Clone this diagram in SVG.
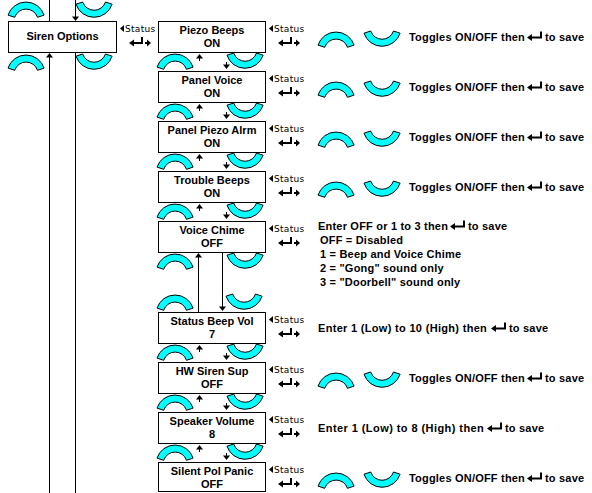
<svg xmlns="http://www.w3.org/2000/svg" xmlns:xlink="http://www.w3.org/1999/xlink" width="592" height="493" viewBox="0 0 592 493">
<style>
.box{fill:#fff;stroke:#000;stroke-width:1}
.lbl{font-family:"Liberation Sans",Arial,sans-serif;font-weight:bold;font-size:11px;fill:#000;text-anchor:middle}
.dsc{font-family:"Liberation Sans",Arial,sans-serif;font-weight:bold;font-size:11px;fill:#000;letter-spacing:0.2px}
.st{font-family:"DejaVu Sans",sans-serif;font-size:9px;fill:#000;letter-spacing:0.3px}
.ln{stroke:#000;stroke-width:1;fill:none}
</style>
<defs>
<path id="arch" fill="#00ffff" stroke="#000" stroke-width="1" d="M0 13.1A19 19 0 0 1 36.1 13.1L29.5 15.3A12 12 0 0 0 6.7 15.3Z"/>
<path id="cup" fill="#00ffff" stroke="#000" stroke-width="1" d="M0 2.2A19 19 0 0 0 36.1 2.2L29.5 0A12 12 0 0 1 6.7 0Z"/>
<g id="ua"><polygon points="0,0 -3.5,4.5 3.5,4.5" fill="#000"/><path d="M0 4v3" stroke="#000" stroke-width="1"/></g>
<g id="da"><polygon points="0,0 -3.5,-4.5 3.5,-4.5" fill="#000"/><path d="M0 -4v-3" stroke="#000" stroke-width="1"/></g>
<polygon id="lt" points="0,0 4,-3.5 4,3.5" fill="#000"/>
<g id="ret"><polygon points="0,0 5,-3.5 5,3.5" fill="#000"/><polyline points="4,0 13,0 13,-6" fill="none" stroke="#000" stroke-width="2"/><path d="M16 0H19" stroke="#000" stroke-width="2"/><polygon points="18,-3.5 22,0 18,3.5" fill="#000"/></g>
<g id="enter"><polygon points="0,0 5,-3.5 5,3.5" fill="#000"/><polyline points="4,0 14,0 14,-6" fill="none" stroke="#000" stroke-width="2"/></g>
</defs>
<rect width="592" height="493" fill="#fff"/>

<g id="keys">
<use xlink:href="#arch" x="8" y="2"/><use xlink:href="#cup" x="76" y="2"/>
<use xlink:href="#arch" x="8" y="55"/><use xlink:href="#cup" x="76" y="54"/>
<use xlink:href="#arch" x="157" y="54"/><use xlink:href="#cup" x="227" y="53"/>
<use xlink:href="#arch" x="157" y="104"/><use xlink:href="#cup" x="227" y="103"/>
<use xlink:href="#arch" x="157" y="154"/><use xlink:href="#cup" x="227" y="153"/>
<use xlink:href="#arch" x="157" y="204"/><use xlink:href="#cup" x="227" y="203"/>
<use xlink:href="#arch" x="157" y="254"/><use xlink:href="#cup" x="227" y="253"/>
<use xlink:href="#arch" x="157" y="295"/><use xlink:href="#cup" x="226" y="294"/>
<use xlink:href="#arch" x="157" y="345"/><use xlink:href="#cup" x="227" y="344"/>
<use xlink:href="#arch" x="157" y="395"/><use xlink:href="#cup" x="227" y="394"/>
<use xlink:href="#arch" x="157" y="445"/><use xlink:href="#cup" x="227" y="444"/>
</g>

<g id="connectors">
<path class="ln" d="M49.5 0V21M75.5 0V17M49.5 57V493M75.5 53V493M198.5 257V312M222.5 253V307"/>
<use xlink:href="#da" x="75.5" y="21"/>
<use xlink:href="#ua" x="49.5" y="53"/>
<polygon points="198.5,253 195,257.5 202,257.5" fill="#000"/>
<polygon points="222.5,311 219,306.5 226,306.5" fill="#000"/>
<use xlink:href="#ua" x="199.5" y="54"/><use xlink:href="#da" x="226.5" y="69"/>
<use xlink:href="#ua" x="199.5" y="104"/><use xlink:href="#da" x="226.5" y="119"/>
<use xlink:href="#ua" x="199.5" y="154"/><use xlink:href="#da" x="226.5" y="169"/>
<use xlink:href="#ua" x="199.5" y="204"/><use xlink:href="#da" x="226.5" y="219"/>
<use xlink:href="#ua" x="199.5" y="345"/><use xlink:href="#da" x="226.5" y="360"/>
<use xlink:href="#ua" x="199.5" y="395"/><use xlink:href="#da" x="226.5" y="410"/>
<use xlink:href="#ua" x="199.5" y="445"/><use xlink:href="#da" x="226.5" y="460"/>

<use xlink:href="#lt" x="120" y="28.5"/><text class="st" x="125" y="32">Status</text><use xlink:href="#ret" x="129" y="43"/>
<use xlink:href="#lt" x="269" y="28.5"/><text class="st" x="274" y="32">Status</text><use xlink:href="#ret" x="278" y="43"/>
<use xlink:href="#lt" x="269" y="78.5"/><text class="st" x="274" y="82">Status</text><use xlink:href="#ret" x="278" y="93"/>
<use xlink:href="#lt" x="269" y="128.5"/><text class="st" x="274" y="132">Status</text><use xlink:href="#ret" x="278" y="143"/>
<use xlink:href="#lt" x="269" y="178.5"/><text class="st" x="274" y="182">Status</text><use xlink:href="#ret" x="278" y="193"/>
<use xlink:href="#lt" x="269" y="228.5"/><text class="st" x="274" y="232">Status</text><use xlink:href="#ret" x="278" y="243"/>
<use xlink:href="#lt" x="269" y="319.5"/><text class="st" x="274" y="323">Status</text><use xlink:href="#ret" x="278" y="334"/>
<use xlink:href="#lt" x="269" y="369.5"/><text class="st" x="274" y="373">Status</text><use xlink:href="#ret" x="278" y="384"/>
<use xlink:href="#lt" x="269" y="419.5"/><text class="st" x="274" y="423">Status</text><use xlink:href="#ret" x="278" y="434"/>
<use xlink:href="#lt" x="269" y="469.5"/><text class="st" x="274" y="473">Status</text><use xlink:href="#ret" x="278" y="484"/>
</g>

<g id="siren-options"><rect class="box" x="8.5" y="21.5" width="108" height="31"/><text class="lbl" x="62.5" y="40">Siren Options</text></g>
<g id="piezo-beeps"><rect class="box" x="158.5" y="21.5" width="107" height="31"/><text class="lbl" x="212" y="34">Piezo Beeps</text><text class="lbl" x="212" y="47">ON</text></g>
<g id="panel-voice"><rect class="box" x="158.5" y="71.5" width="107" height="31"/><text class="lbl" x="212" y="84">Panel Voice</text><text class="lbl" x="212" y="97">ON</text></g>
<g id="panel-piezo-alrm"><rect class="box" x="158.5" y="121.5" width="107" height="31"/><text class="lbl" x="212" y="134">Panel Piezo Alrm</text><text class="lbl" x="212" y="147">ON</text></g>
<g id="trouble-beeps"><rect class="box" x="158.5" y="171.5" width="107" height="31"/><text class="lbl" x="212" y="184">Trouble Beeps</text><text class="lbl" x="212" y="197">ON</text></g>
<g id="voice-chime"><rect class="box" x="158.5" y="221.5" width="107" height="31"/><text class="lbl" x="212" y="234">Voice Chime</text><text class="lbl" x="212" y="247">OFF</text></g>
<g id="status-beep-vol"><rect class="box" x="158.5" y="312.5" width="107" height="31"/><text class="lbl" x="212" y="325">Status Beep Vol</text><text class="lbl" x="212" y="338">7</text></g>
<g id="hw-siren-sup"><rect class="box" x="158.5" y="362.5" width="107" height="31"/><text class="lbl" x="212" y="375">HW Siren Sup</text><text class="lbl" x="212" y="388">OFF</text></g>
<g id="speaker-volume"><rect class="box" x="158.5" y="412.5" width="107" height="31"/><text class="lbl" x="212" y="425">Speaker Volume</text><text class="lbl" x="212" y="438">8</text></g>
<g id="silent-pol-panic"><rect class="box" x="158.5" y="462.5" width="107" height="29"/><text class="lbl" x="212" y="475">Silent Pol Panic</text><text class="lbl" x="212" y="488">OFF</text></g>

<g id="desc-piezo"><use xlink:href="#arch" x="318" y="32"/><use xlink:href="#cup" x="364" y="31"/><text class="dsc" x="409" y="41">Toggles ON/OFF then</text><use xlink:href="#enter" x="527" y="37.5"/><text class="dsc" x="545" y="41">to save</text></g>
<g id="desc-panel-voice"><use xlink:href="#arch" x="318" y="82"/><use xlink:href="#cup" x="364" y="81"/><text class="dsc" x="409" y="91">Toggles ON/OFF then</text><use xlink:href="#enter" x="527" y="87.5"/><text class="dsc" x="545" y="91">to save</text></g>
<g id="desc-panel-piezo"><use xlink:href="#arch" x="318" y="132"/><use xlink:href="#cup" x="364" y="131"/><text class="dsc" x="409" y="141">Toggles ON/OFF then</text><use xlink:href="#enter" x="527" y="137.5"/><text class="dsc" x="545" y="141">to save</text></g>
<g id="desc-trouble"><use xlink:href="#arch" x="318" y="182"/><use xlink:href="#cup" x="364" y="181"/><text class="dsc" x="409" y="191">Toggles ON/OFF then</text><use xlink:href="#enter" x="527" y="187.5"/><text class="dsc" x="545" y="191">to save</text></g>
<g id="desc-voice-chime"><text class="dsc" x="318" y="230">Enter OFF or 1 to 3 then</text><use xlink:href="#enter" x="450" y="226.5"/><text class="dsc" x="468" y="230">to save</text>
<text class="dsc" x="320" y="244">OFF = Disabled</text>
<text class="dsc" x="320" y="258">1 = Beep and Voice Chime</text>
<text class="dsc" x="320" y="272">2 = "Gong" sound only</text>
<text class="dsc" x="320" y="286">3 = "Doorbell" sound only</text></g>
<g id="desc-status-beep"><text class="dsc" x="318" y="332" textLength="169" lengthAdjust="spacing">Enter 1 (Low) to 10 (High) then</text><use xlink:href="#enter" x="491" y="328.5"/><text class="dsc" x="509" y="332">to save</text></g>
<g id="desc-hw-siren"><use xlink:href="#arch" x="318" y="373"/><use xlink:href="#cup" x="364" y="372"/><text class="dsc" x="409" y="382">Toggles ON/OFF then</text><use xlink:href="#enter" x="527" y="378.5"/><text class="dsc" x="545" y="382">to save</text></g>
<g id="desc-speaker"><text class="dsc" x="318" y="432" textLength="166" lengthAdjust="spacing">Enter 1 (Low) to 8 (High) then</text><use xlink:href="#enter" x="487" y="428.5"/><text class="dsc" x="505" y="432">to save</text></g>
<g id="desc-silent"><use xlink:href="#arch" x="318" y="473"/><use xlink:href="#cup" x="364" y="472"/><text class="dsc" x="409" y="482">Toggles ON/OFF then</text><use xlink:href="#enter" x="527" y="478.5"/><text class="dsc" x="545" y="482">to save</text></g>
</svg>
